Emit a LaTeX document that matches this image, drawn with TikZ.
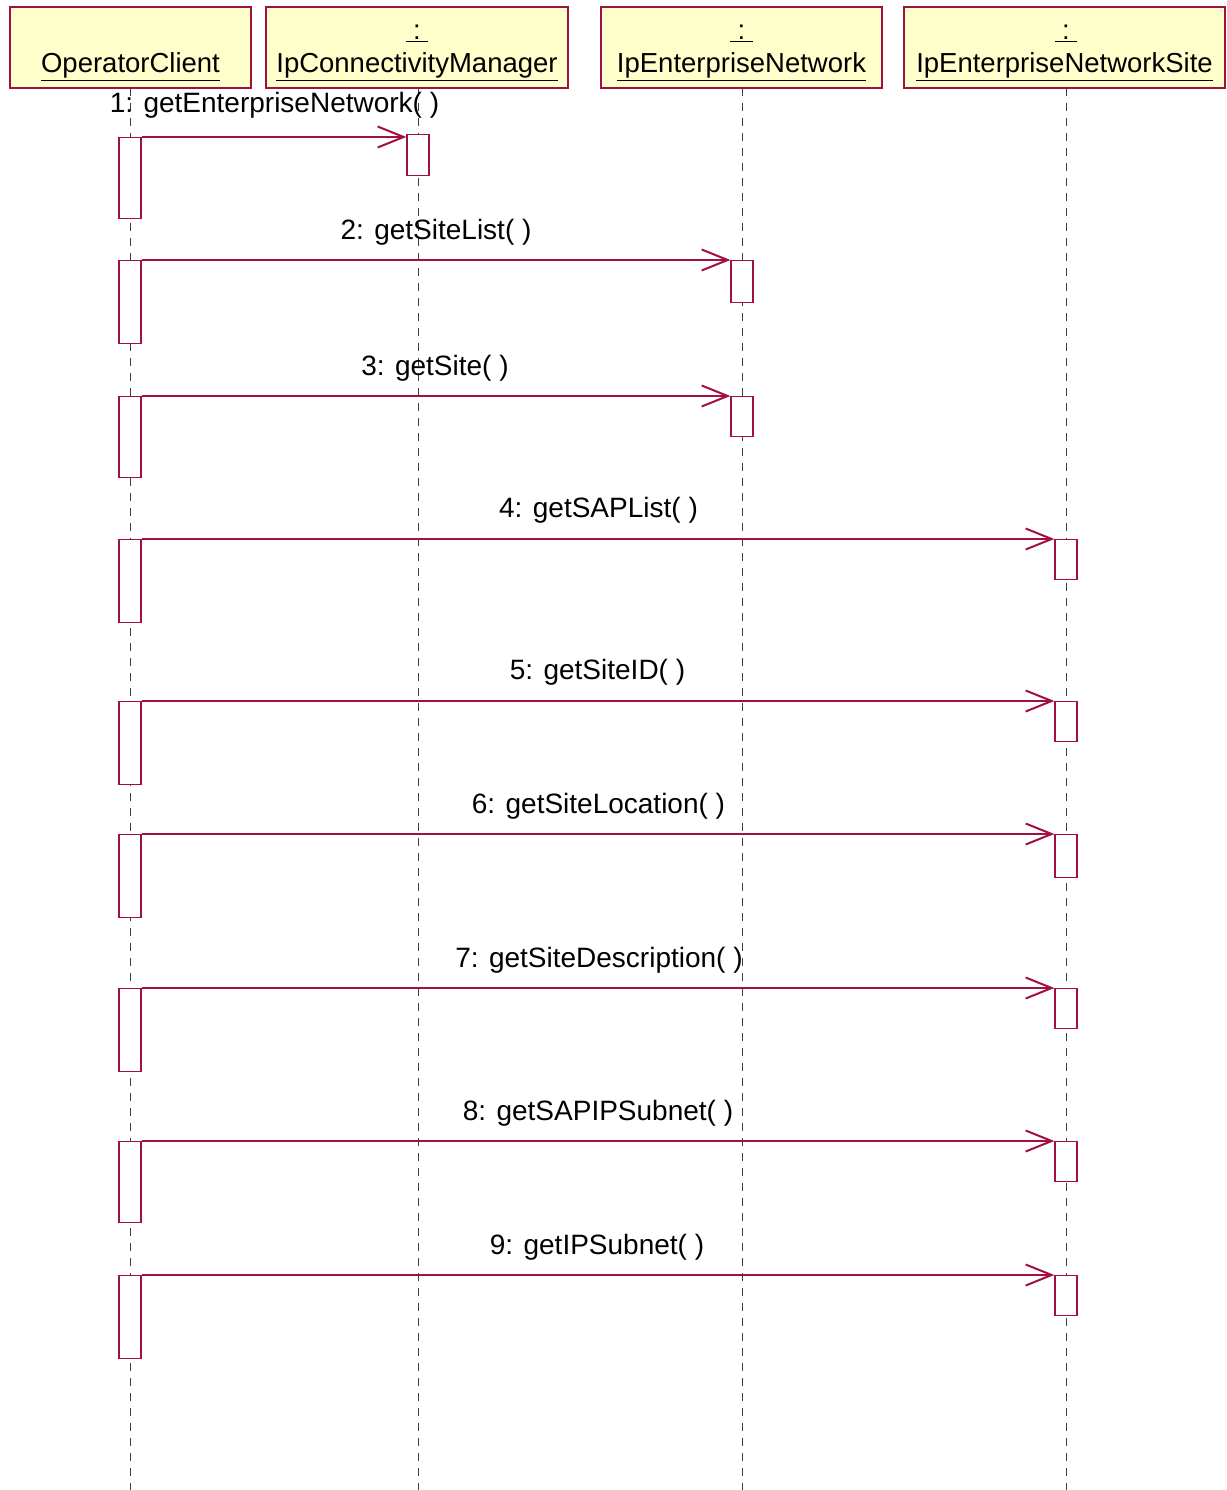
\documentclass[tikz,border=0pt]{standalone}
\usepackage{fontspec}
\setmainfont{Liberation Sans}
\usetikzlibrary{arrows.meta}
\definecolor{umlred}{RGB}{160,16,64}
\definecolor{umlyellow}{RGB}{255,255,204}
\tikzset{
 objbox/.style={draw=umlred, fill=umlyellow, line width=1.1pt, inner sep=0},
 lifeline/.style={draw=black!75, line width=0.9pt, dash pattern=on 8pt off 7pt},
 actbox/.style={draw=umlred, fill=white, line width=1.3pt, minimum width=22pt, inner sep=0, anchor=north},
 msg/.style={draw=umlred, line width=1.1pt, -{Straight Barb[length=26pt,width=21pt,line width=2pt]}},
 hdr/.style={font=\fontsize{27.5}{30}\selectfont, anchor=base, inner sep=0},
 lbl/.style={font=\fontsize{28}{30}\selectfont, anchor=base, inner sep=0},
}
\begin{document}
\begin{tikzpicture}[x=1pt,y=-1pt]
\useasboundingbox (0,0) rectangle (1226,1490);
% object boxes
\node[objbox, minimum width=241pt, minimum height=81pt] (oc) at (130.5,47.5) {};
\node[objbox, minimum width=302pt, minimum height=81pt] (icm) at (417,47.5) {};
\node[objbox, minimum width=281pt, minimum height=81pt] (ien) at (741.5,47.5) {};
\node[objbox, minimum width=321pt, minimum height=81pt] (ins) at (1064.5,47.5) {};
% header texts
\node[hdr] (ocn) at (130.5,73) {\underline{OperatorClient}};
\node[hdr] (icmc) at (417,40) {\underline{\ :\ }};
\node[hdr] (icmn) at (417,73) {\underline{IpConnectivityManager}};
\node[hdr] (ienc) at (741.5,40) {\underline{\ :\ }};
\node[hdr] (ienn) at (741.5,73) {\underline{IpEnterpriseNetwork}};
\node[hdr] (insc) at (1066,40) {\underline{\ :\ }};
\node[hdr] (insn) at (1064.5,73) {\underline{IpEnterpriseNetworkSite}};
% lifeline ends
\coordinate (ocb) at (130,1490);
\coordinate (icmb) at (418,1490);
\coordinate (ienb) at (742,1490);
\coordinate (insb) at (1066,1490);
\draw[lifeline] (130,88) -- (ocb);
\draw[lifeline] (418,88) -- (icmb);
\draw[lifeline] (742,88) -- (ienb);
\draw[lifeline] (1066,88) -- (insb);
% source activations
\node[actbox, minimum height=81pt] (a1) at (130,137) {};
\node[actbox, minimum height=83pt] (a2) at (130,260) {};
\node[actbox, minimum height=81pt] (a3) at (130,396) {};
\node[actbox, minimum height=83pt] (a4) at (130,539) {};
\node[actbox, minimum height=83pt] (a5) at (130,701) {};
\node[actbox, minimum height=83pt] (a6) at (130,834) {};
\node[actbox, minimum height=83pt] (a7) at (130,988) {};
\node[actbox, minimum height=81pt] (a8) at (130,1141) {};
\node[actbox, minimum height=83pt] (a9) at (130,1275) {};
% target activations
\node[actbox, minimum height=41pt] (t1) at (418,134) {};
\node[actbox, minimum height=42pt] (t2) at (742,260) {};
\node[actbox, minimum height=40pt] (t3) at (742,396) {};
\node[actbox, minimum height=40pt] (t4) at (1066,539) {};
\node[actbox, minimum height=40pt] (t5) at (1066,701) {};
\node[actbox, minimum height=43pt] (t6) at (1066,834) {};
\node[actbox, minimum height=40pt] (t7) at (1066,988) {};
\node[actbox, minimum height=40pt] (t8) at (1066,1141) {};
\node[actbox, minimum height=40pt] (t9) at (1066,1275) {};
% messages
\foreach \i in {1,...,9}{
  \draw[msg] (a\i.north east) -- (a\i.north east -| t\i.west);
}
% labels
\node[lbl] (l1) at (274.5,113) {1: getEnterpriseNetwork( )};
\node[lbl] (l2) at (436,239) {2: getSiteList( )};
\node[lbl] (l3) at (435,375) {3: getSite( )};
\node[lbl] (l4) at (598.5,517) {4: getSAPList( )};
\node[lbl] (l5) at (597.5,679) {5: getSiteID( )};
\node[lbl] (l6) at (598.5,813) {6: getSiteLocation( )};
\node[lbl] (l7) at (599,967) {7: getSiteDescription( )};
\node[lbl] (l8) at (598,1120) {8: getSAPIPSubnet( )};
\node[lbl] (l9) at (597,1254) {9: getIPSubnet( )};
\end{tikzpicture}
\end{document}
